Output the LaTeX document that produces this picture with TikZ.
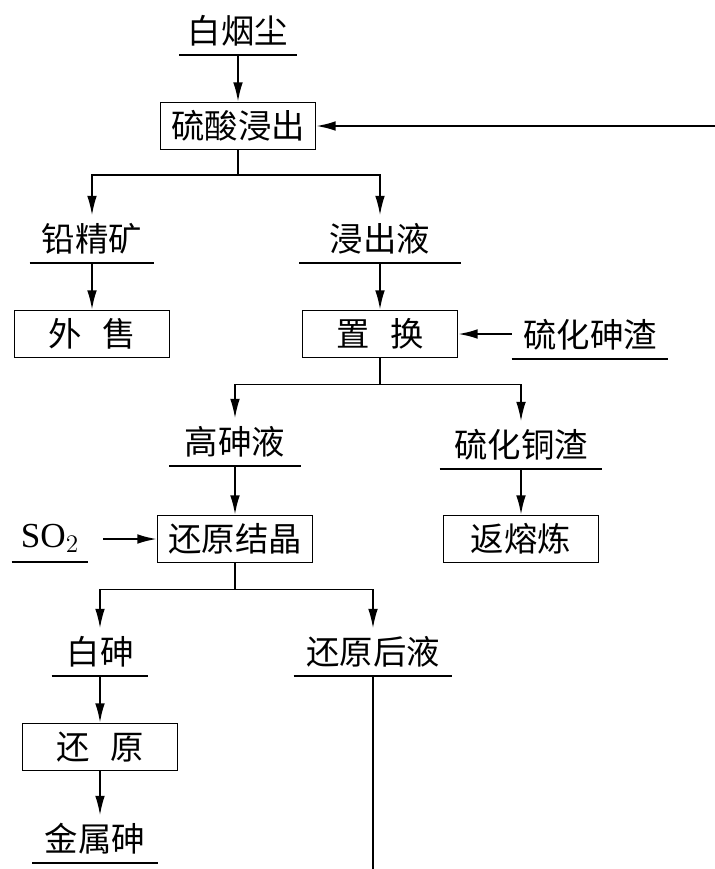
\documentclass[tikz,border=0pt]{standalone}
\usepackage{fontspec}
\setmainfont{Noto Sans CJK SC}
\newfontfamily\lser{Liberation Serif}
\usetikzlibrary{arrows.meta}
\begin{document}
\begin{tikzpicture}[x=0.02cm,y=-0.02cm, line width=1pt,
 font=\fontsize{19}{22}\selectfont,
 arr/.style={-{Latex[length=11pt,width=5.5pt]}},
 box/.style={draw, minimum width=3.1cm, minimum height=0.94cm, inner sep=0pt},
 lab/.style={anchor=south, minimum height=0.92cm, inner sep=0pt}]
\useasboundingbox (0,0) rectangle (715,869);
% labels (anchor south = underline)
\node[lab, minimum width=2.32cm] (l1) at (238,55) {白烟尘};
\node[lab, minimum width=2.46cm] (l2) at (92,263) {铅精矿};
\node[lab, minimum width=3.2cm] (l3) at (380,263) {浸出液};
\node[lab, minimum width=3.1cm] (l4) at (590,359) {硫化砷渣};
\node[lab, minimum width=2.6cm] (l5) at (235,466) {高砷液};
\node[lab, minimum width=3.22cm] (l6) at (521,469) {硫化铜渣};
\node[lab, minimum width=1.5cm] (l7) at (50,562) {\lser\fontsize{20}{22}\selectfont SO$_2$};
\node[lab, minimum width=1.9cm] (l8) at (100,676) {白砷};
\node[lab, minimum width=3.14cm] (l9) at (373,676) {还原后液};
\node[lab, minimum width=2.48cm] (l10) at (95,863) {金属砷};
\foreach \n in {l1,l2,l3,l4,l5,l6,l7,l8,l9,l10}
  \draw (\n.south west) -- (\n.south east);
% boxes
\node[box] (b1) at (238,126) {硫酸浸出};
\node[box] (b2) at (92,334) {外\hspace{0.6em}售};
\node[box] (b3) at (380,334) {置\hspace{0.6em}换};
\node[box] (b4) at (235,539) {还原结晶};
\node[box] (b5) at (521,539) {返熔炼};
\node[box] (b6) at (100,747) {还\hspace{0.6em}原};
% free ends
\coordinate (rt) at (715,126);
\coordinate (bt) at (373,869);
\coordinate (so) at (103,539);
% connectors
\draw[arr] (l1.south) -- (b1.north);
\draw[arr] (rt) -- (b1.east);
\draw (b1.south) -- ++(0,25) coordinate (j1);
\draw[arr] (j1) -| (l2.north);
\draw[arr] (j1) -| (l3.north);
\draw[arr] (l2.south) -- (b2.north);
\draw[arr] (l3.south) -- (b3.north);
\draw[arr] (l4.west |- b3.east) -- (b3.east);
\draw (b3.south) -- ++(0,26) coordinate (j2);
\draw[arr] (j2) -| (l5.north);
\draw[arr] (j2) -| (l6.north);
\draw[arr] (l5.south) -- (b4.north);
\draw[arr] (l6.south) -- (b5.north);
\draw[arr] (so) -- (b4.west);
\draw (b4.south) -- ++(0,26) coordinate (j3);
\draw[arr] (j3) -| (l8.north);
\draw[arr] (j3) -| (l9.north);
\draw[arr] (l8.south) -- (b6.north);
\draw[arr] (b6.south) -- (b6.south |- l10.north);
\draw (l9.south) -- (bt);
\end{tikzpicture}
\end{document}
